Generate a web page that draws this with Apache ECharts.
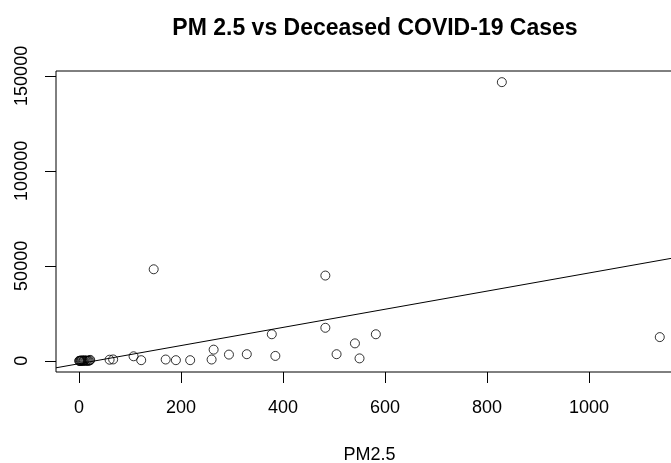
<!DOCTYPE html>
<html>
<head>
<meta charset="utf-8">
<script src="https://cdn.jsdelivr.net/npm/echarts@6/dist/echarts.min.js"></script>
<style>
html,body{margin:0;padding:0;background:#fff;}
#chart{width:671px;height:463px;}
</style>
</head>
<body>
<div id="chart"></div>
<script>
// PM2.5 values and deceased cases
const pm25 = [0.5, 1.2, 2.5, 3.8, 5, 6.3, 8, 9.5, 11, 13, 15, 17, 19, 21, 22,
  60, 67, 107, 122, 146.5, 170, 190, 218, 260, 264, 294, 329, 378, 385,
  483, 483, 505, 541, 550, 582, 829, 1138.6];
const deceased = [10, 30, 0, 120, 60, 200, 15, 80, 300, 40, 150, 20, 90, 250, 500,
  600, 750, 2400, 350, 48200, 700, 350, 350, 700, 5900, 3300, 3500, 14000, 2600,
  44900, 17400, 3500, 9200, 1300, 14000, 146700, 12500];
// fitted regression line (abline)
const lineIntercept = -1512;
const lineSlope = 47.77;
const xTicks = [0, 200, 400, 600, 800, 1000];
const yTicks = [0, 50000, 100000, 150000];
const titleText = 'PM 2.5 vs Deceased COVID-19 Cases';
const xTitle = 'PM2.5';

// R-style axis limits: data range extended by 4% on each side
function rRange(arr) {
  const mn = Math.min(...arr), mx = Math.max(...arr);
  const d = (mx - mn) * 0.04;
  return [mn - d, mx + d];
}
const xr = rRange(pm25);
const yr = rRange(deceased);
const points = pm25.map((x, i) => [x, deceased[i]]);
const linePts = [[xr[0], lineIntercept + lineSlope * xr[0]], [xr[1], lineIntercept + lineSlope * xr[1]]];

const font = 'Liberation Sans, Arial, Helvetica, sans-serif';
const plain = v => String(Math.round(v));
const chart = echarts.init(document.getElementById('chart'), null, {renderer: 'canvas'});
chart.setOption({
  animation: false,
  backgroundColor: '#ffffff',
  title: {
    text: titleText,
    left: 370,
    top: 12,
    textAlign: 'center',
    textStyle: {fontFamily: font, fontSize: 23, fontWeight: 'bold', color: '#000'}
  },
  grid: {
    left: 56, top: 71, width: 627, height: 301,
    show: true, borderColor: '#000', borderWidth: 1,
    containLabel: false, outerBoundsMode: 'none'
  },
  xAxis: {
    type: 'value', min: xr[0], max: xr[1],
    name: xTitle, nameLocation: 'middle', nameGap: 74,
    nameTextStyle: {fontFamily: font, fontSize: 18, color: '#000'},
    axisLine: {show: false, onZero: false},
    splitLine: {show: false},
    axisTick: {show: true, length: 11, inside: false, customValues: xTicks, lineStyle: {color: '#000', width: 1}},
    axisLabel: {customValues: xTicks, formatter: plain, margin: 27, fontFamily: font, fontSize: 18, color: '#000', showMinLabel: true, showMaxLabel: true}
  },
  yAxis: {
    type: 'value', min: yr[0], max: yr[1],
    axisLine: {show: false, onZero: false},
    splitLine: {show: false},
    axisTick: {show: true, length: 11, inside: false, customValues: yTicks, lineStyle: {color: '#000', width: 1}},
    axisLabel: {customValues: yTicks, formatter: plain, rotate: 90, margin: 25, fontFamily: font, fontSize: 18, color: '#000'}
  },
  series: [
    {
      type: 'scatter', data: points, symbol: 'circle', symbolSize: 9,
      itemStyle: {color: 'rgba(0,0,0,0)', borderColor: '#000', borderWidth: 1},
      silent: true
    },
    {
      type: 'line', data: linePts, showSymbol: false, symbol: 'none',
      lineStyle: {color: '#000', width: 1}, silent: true, clip: true
    }
  ]
});
</script>
</body>
</html>
